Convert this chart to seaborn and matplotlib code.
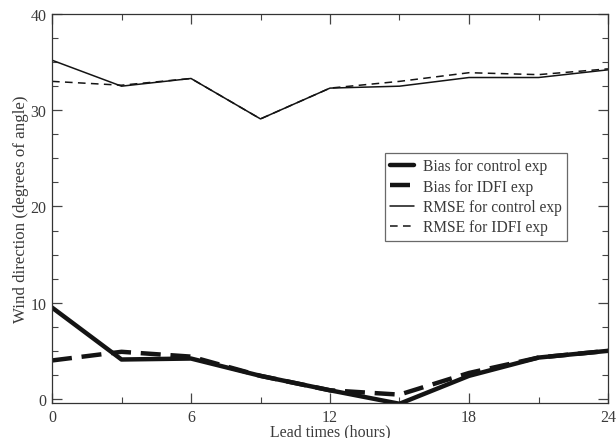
import matplotlib
matplotlib.use("Agg")
import matplotlib.pyplot as plt
from matplotlib.ticker import MultipleLocator
import seaborn as sns

# Lead times (hours) and error statistics (degrees)
lead_times = [0, 3, 6, 9, 12, 15, 18, 21, 24]
bias_control = [9.5, 4.1, 4.2, 2.4, 0.9, -0.5, 2.4, 4.3, 5.0]
bias_idfi = [4.0, 4.9, 4.4, 2.4, 0.9, 0.45, 2.7, 4.3, 5.0]
rmse_control = [35.2, 32.5, 33.3, 29.1, 32.3, 32.5, 33.4, 33.4, 34.2]
rmse_idfi = [33.0, 32.6, 33.3, 29.1, 32.3, 33.0, 33.9, 33.7, 34.3]

sns.set_style("ticks")
plt.rcParams["font.family"] = ["Liberation Serif", "DejaVu Serif"]
text_col = "#3a3a3a"
line_col = "#141414"

fig = plt.figure(figsize=(6.16, 4.39), dpi=100)
ax = fig.add_axes([52 / 616, 1 - 404 / 439, (608 - 52) / 616, (404 - 15) / 439])

sns.lineplot(x=lead_times, y=bias_control, ax=ax, color=line_col, lw=3.2,
             label="Bias for control exp")
sns.lineplot(x=lead_times, y=bias_idfi, ax=ax, color=line_col, lw=3.2,
             label="Bias for IDFI exp")
sns.lineplot(x=lead_times, y=rmse_control, ax=ax, color=line_col, lw=1.1,
             label="RMSE for control exp")
sns.lineplot(x=lead_times, y=rmse_idfi, ax=ax, color=line_col, lw=1.1,
             label="RMSE for IDFI exp")
lines = ax.get_lines()
lines[1].set_dashes((4.5, 2.2))
lines[3].set_dashes((5, 3.5))

ax.set_xlim(0, 24)
ax.set_ylim(-0.42, 40)
ax.xaxis.set_major_locator(MultipleLocator(6))
ax.xaxis.set_minor_locator(MultipleLocator(3))
ax.yaxis.set_major_locator(MultipleLocator(10))
ax.yaxis.set_minor_locator(MultipleLocator(2.5))
ax.tick_params(which="both", direction="in", top=True, right=True,
               colors="#444444", labelcolor=text_col, labelsize=11.5)
ax.tick_params(which="major", length=7, width=0.9, pad=4)
ax.tick_params(which="minor", length=4, width=0.8)
for sp in ax.spines.values():
    sp.set_visible(True)
    sp.set_color("#333333")
    sp.set_linewidth(0.9)

ax.set_xlabel("Lead times (hours)", fontsize=11.4, color=text_col, labelpad=-1)
ax.set_ylabel("Wind direction (degrees of angle)", fontsize=12.2,
              color=text_col, labelpad=1)

leg = ax.legend(loc="upper left", bbox_to_anchor=(0.599, 0.643), fontsize=11.2,
                frameon=True, fancybox=False, handlelength=1.5,
                borderpad=0.35, labelspacing=0.28, handletextpad=0.6,
                borderaxespad=0)
leg.get_frame().set_edgecolor("#444444")
leg.get_frame().set_linewidth(0.9)
for t in leg.get_texts():
    t.set_color(text_col)

fig.savefig("out.png", dpi=100)
